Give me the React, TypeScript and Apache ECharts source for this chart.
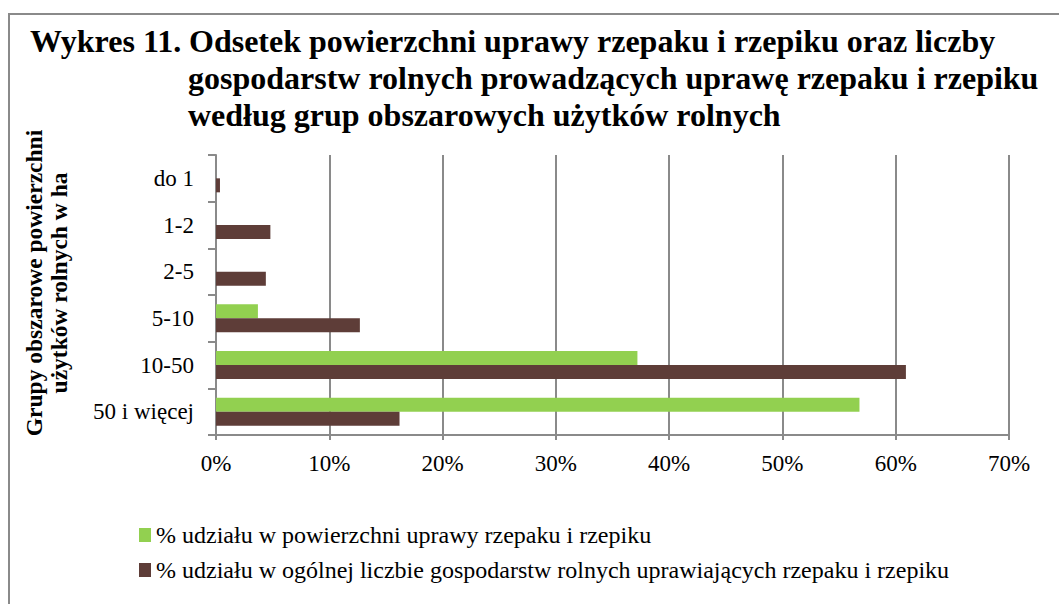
import React, { useEffect, useRef } from "react";
import * as echarts from "echarts";

const categories = ["do 1", "1-2", "2-5", "5-10", "10-50", "50 i więcej"];
const areaShare = [0, 0, 0, 3.7, 37.2, 56.8];
const farmShare = [0.35, 4.8, 4.4, 12.7, 60.9, 16.2];
const xMin = 0;
const xMax = 70;
const xStep = 10;

const seriesNames = [
  "% udziału w powierzchni uprawy rzepaku i rzepiku",
  "% udziału w ogólnej liczbie gospodarstw rolnych uprawiających rzepaku i rzepiku",
];
const titleLines = [
  "Wykres 11.",
  "Odsetek powierzchni uprawy rzepaku i rzepiku oraz liczby",
  "gospodarstw rolnych prowadzących uprawę rzepaku i rzepiku",
  "według grup obszarowych użytków rolnych",
];
const yAxisTitle = "Grupy obszarowe powierzchni\nużytków rolnych w ha";

const FONT = "'Liberation Serif', 'Times New Roman', serif";
const GREEN = "#92D050";
const BROWN = "#5E3D38";
const GRAY = "#8a8a8a";

export default function App() {
  const ref = useRef<HTMLDivElement>(null);
  useEffect(() => {
    if (!ref.current) return;
    const chart = echarts.init(ref.current, null, { renderer: "svg" });
    const titleStyle = { fontFamily: FONT, fontWeight: "bold", fontSize: 32, fill: "#000", verticalAlign: "middle" };
    chart.setOption({
      animation: false,
      backgroundColor: "#fff",
      graphic: [
        { type: "rect", shape: { x: 9, y: 14, width: 1200, height: 800 }, style: { fill: "none", stroke: GRAY, lineWidth: 2 }, silent: true },
        { type: "text", x: 30, y: 41, style: { ...titleStyle, text: titleLines[0] } },
        { type: "text", x: 189, y: 41, style: { ...titleStyle, text: titleLines[1] } },
        { type: "text", x: 188, y: 78, style: { ...titleStyle, text: titleLines[2] } },
        { type: "text", x: 188, y: 115, style: { ...titleStyle, text: titleLines[3] } },
        {
          type: "text", x: 46, y: 283, rotation: Math.PI / 2,
          style: { text: yAxisTitle, fontFamily: FONT, fontWeight: "bold", fontSize: 23.5, lineHeight: 25, fill: "#000", align: "center", verticalAlign: "middle" },
        },
      ],
      legend: {
        orient: "vertical",
        left: 139,
        top: 523,
        padding: 0,
        itemWidth: 12,
        itemHeight: 14,
        itemGap: 11,
        icon: "rect",
        textStyle: { fontFamily: FONT, fontSize: 24, color: "#000", lineHeight: 24 },
        data: seriesNames,
      },
      grid: { left: 216, right: 50, top: 155, bottom: 169, containLabel: false },
      xAxis: {
        type: "value",
        min: xMin,
        max: xMax,
        interval: xStep,
        axisLine: { show: true, lineStyle: { color: GRAY, width: 2 } },
        axisTick: { show: true, length: 5, lineStyle: { color: GRAY, width: 2 } },
        splitLine: { show: true, lineStyle: { color: GRAY, width: 2 } },
        axisLabel: { formatter: "{value}%", fontFamily: FONT, fontSize: 23, color: "#000", margin: 17 },
      },
      yAxis: {
        type: "category",
        data: categories,
        inverse: true,
        axisLine: { show: true, lineStyle: { color: GRAY, width: 2 } },
        axisTick: { show: true, length: 8, lineStyle: { color: GRAY, width: 2 } },
        axisLabel: { fontFamily: FONT, fontSize: 23, color: "#000", margin: 22 },
      },
      series: [
        { name: seriesNames[0], type: "bar", data: areaShare, itemStyle: { color: GREEN }, barGap: "0%", barCategoryGap: "40%" },
        { name: seriesNames[1], type: "bar", data: farmShare, itemStyle: { color: BROWN }, barGap: "0%", barCategoryGap: "40%" },
      ],
    });
    return () => chart.dispose();
  }, []);
  return <div ref={ref} style={{ position: "fixed", left: 0, top: 0, width: 1059, height: 604 }} />;
}
